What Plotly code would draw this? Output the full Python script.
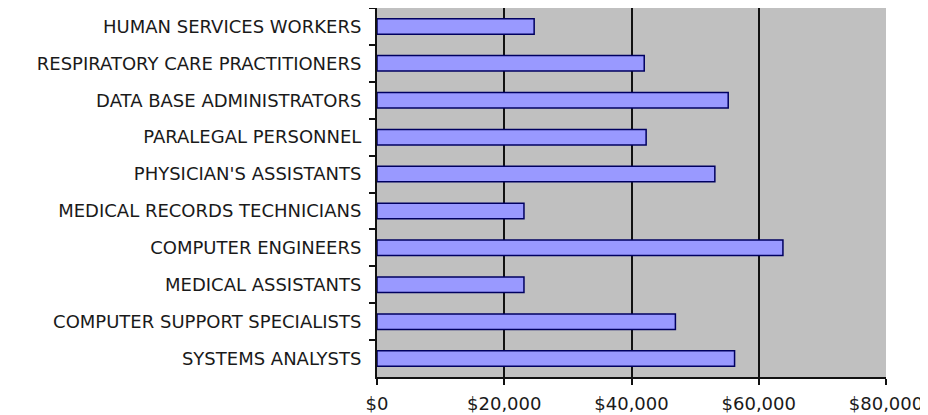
import plotly.graph_objects as go

occupations = [
    "HUMAN SERVICES WORKERS",
    "RESPIRATORY CARE PRACTITIONERS",
    "DATA BASE ADMINISTRATORS",
    "PARALEGAL PERSONNEL",
    "PHYSICIAN'S ASSISTANTS",
    "MEDICAL RECORDS TECHNICIANS",
    "COMPUTER ENGINEERS",
    "MEDICAL ASSISTANTS",
    "COMPUTER SUPPORT SPECIALISTS",
    "SYSTEMS ANALYSTS",
]
salaries = [24700, 42000, 55200, 42300, 53100, 23100, 63800, 23100, 46900, 56200]

x_ticks = [0, 20000, 40000, 60000, 80000]
x_labels = ["$0", "$20,000", "$40,000", "$60,000", "$80,000"]
grid_vals = [20000, 40000, 60000]

fig = go.Figure()
fig.add_trace(go.Bar(x=salaries, y=occupations, orientation="h",
                     marker=dict(color="#9999ff", line=dict(color="#000060", width=1.5))))

# page body has an 8px margin, so the figure is sized/offset to compensate
fig.update_layout(
    width=920, height=407, showlegend=False, bargap=0.58,
    paper_bgcolor="white", plot_bgcolor="#c0c0c0",
    font=dict(family="DejaVu Sans", size=18, color="#1a1a1a"),
    margin=dict(l=369, r=42, t=0, b=38),
)
fig.update_xaxes(range=[0, 80000], tickvals=x_ticks, ticktext=x_labels,
                 showgrid=False, zeroline=False,
                 minor=dict(tickvals=grid_vals, showgrid=True, gridcolor="#111111",
                            gridwidth=2, ticks=""),
                 showline=True, linecolor="#111111", linewidth=2,
                 ticks="outside", ticklen=6, tickcolor="#111111", tickwidth=2,
                 ticklabelstandoff=3)
fig.update_yaxes(autorange="reversed", tickson="boundaries",
                 showline=True, linecolor="#111111", linewidth=2,
                 ticks="outside", ticklen=6, tickcolor="#111111", tickwidth=2,
                 ticklabelstandoff=10, showgrid=False)

fig.write_html("out.html")
